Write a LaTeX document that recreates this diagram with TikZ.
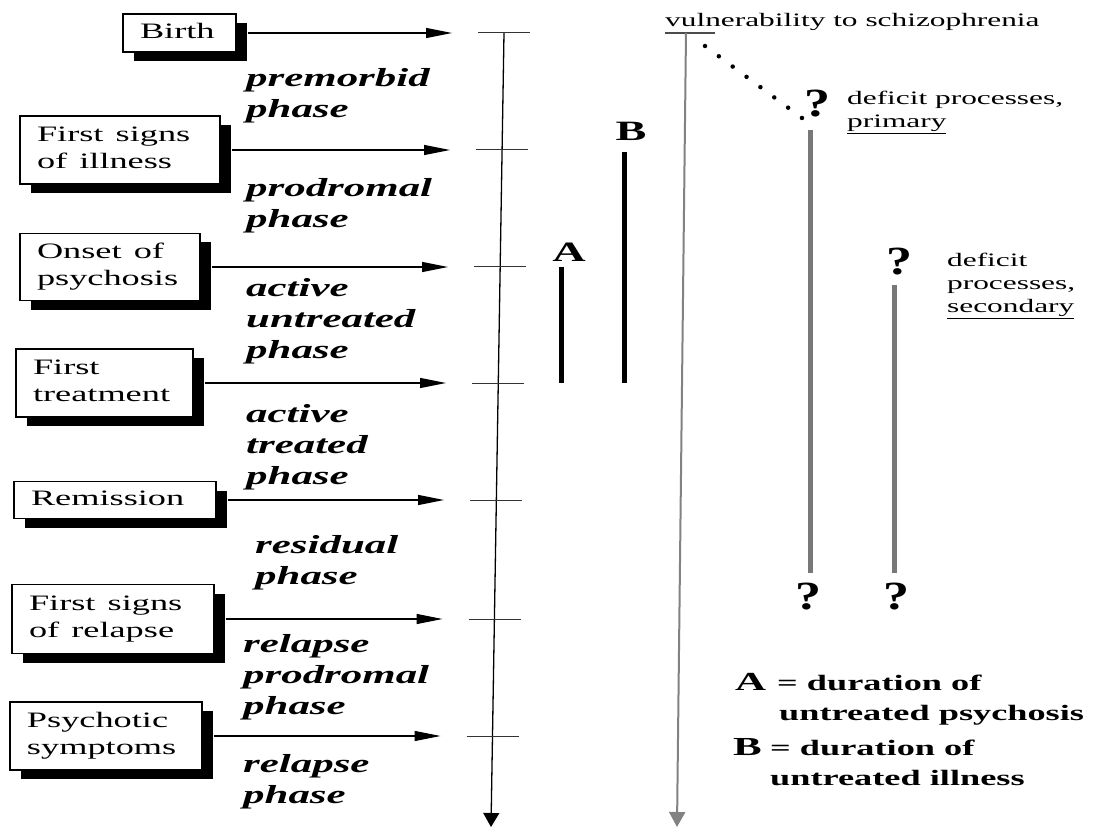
\documentclass[tikz,border=0pt]{standalone}
\usepackage{fontspec}
\setmainfont{Liberation Serif}
\usetikzlibrary{arrows.meta,shadows}
\newcommand{\hs}[1]{\scalebox{1.65}[1]{#1}}
\newcommand{\hlc}[1]{\scalebox{1.65}[1]{\begin{tabular}{@{}l@{}}#1\end{tabular}}}
\newcommand{\hlt}[1]{\scalebox{1.65}[1]{\begin{tabular}[t]{@{}l@{}}#1\end{tabular}}}
\definecolor{bargray}{RGB}{120,120,120}
\definecolor{linegray}{RGB}{130,130,130}
\tikzset{
  evbox/.style={draw, line width=1.3pt, fill=white,
    drop shadow={shadow xshift=11pt, shadow yshift=-9pt, fill=black, opacity=1},
    inner xsep=17pt, inner ysep=0pt, align=left,
    font=\fontsize{22}{27}\selectfont},
  phasetxt/.style={anchor=base west, inner sep=0pt, font=\fontsize{26}{31}\selectfont\bfseries\itshape},
  rtxt/.style={anchor=base west, inner sep=0pt, font=\fontsize{19}{23}\selectfont},
  legtxt/.style={anchor=base west, inner sep=0pt, font=\fontsize{22}{30}\selectfont\bfseries},
  bigl/.style={inner sep=0pt, font=\fontsize{28}{30}\selectfont\bfseries},
  qm/.style={inner sep=0pt, font=\fontsize{40}{42}\selectfont\bfseries},
  evarrow/.style={line width=1.1pt, -{Triangle[length=26pt,width=10pt]}},
  tick/.style={line width=1pt, black!80},
  durbar/.style={line width=5pt, black},
  defbar/.style={line width=5pt, bargray},
}
\begin{document}
\begin{tikzpicture}[x=1pt,y=-1pt]
\useasboundingbox (0,0) rectangle (1109,829);
\fill[white] (0,0) rectangle (1109,829);

% timeline coordinates
\coordinate (top) at (504,33);
\coordinate (bot) at (491,827);
\coordinate (t1) at (504,33);
\coordinate (t2) at (502,150);
\coordinate (t3) at (500,267);
\coordinate (t4) at (498,383);
\coordinate (t5) at (496,500);
\coordinate (t6) at (494.5,619);
\coordinate (t7) at (492.5,736);

\draw[line width=1.3pt, -{Triangle[length=14pt,width=16pt]}] (top) -- (bot);
\foreach \t in {t1,t2,t3,t4,t5,t6,t7}{
  \draw[tick] ([xshift=-26pt]\t) -- ([xshift=26pt]\t);
}

% event boxes
\node[evbox, minimum height=38pt, text width=79pt] (b1) at (179.5,33) {\hlc{Birth}};
\node[evbox, minimum height=68pt, text width=166pt] (b2) at (120,150) {\hlc{First signs\\of illness}};
\node[evbox, minimum height=67pt, text width=146pt] (b3) at (110,267) {\hlc{Onset of\\psychosis}};
\node[evbox, minimum height=68pt, text width=143pt] (b4) at (104.5,383) {\hlc{First\\treatment}};
\node[evbox, minimum height=37pt, text width=168pt] (b5) at (115,500) {\hlc{Remission}};
\node[evbox, minimum height=69pt, text width=168pt] (b6) at (113,619) {\hlc{First signs\\of relapse}};
\node[evbox, minimum height=68pt, text width=158pt] (b7) at (106,736) {\hlc{Psychotic\\symptoms}};

% arrows
\foreach \i in {1,...,7}{
  \draw[evarrow] ([xshift=11pt]b\i.east) -- ([xshift=-52pt]t\i);
}

% phase labels
\node[phasetxt] (p1) at (246,87) {\hlt{premorbid\\phase}};
\node[phasetxt] (p2) at (246,197) {\hlt{prodromal\\phase}};
\node[phasetxt] (p3) at (246,297) {\hlt{active\\untreated\\phase}};
\node[phasetxt] (p4) at (246,422) {\hlt{active\\treated\\phase}};
\node[phasetxt] (p5) at (255,553) {\hlt{residual\\phase}};
\node[phasetxt] (p6) at (243,652) {\hlt{relapse\\prodromal\\phase}};
\node[phasetxt] (p7) at (243,772) {\hlt{relapse\\phase}};

% A and B bars
\node[bigl] (la) at (569,252) {\hs{A}};
\coordinate (a1) at (561,267);
\coordinate (a2) at (561,383);
\draw[durbar] (a1) -- (a2);
\node[bigl] (lb) at (631,131) {\hs{B}};
\coordinate (bb1) at (624,152);
\coordinate (bb2) at (624,383);
\draw[durbar] (bb1) -- (bb2);

% vulnerability line
\node[rtxt] (vul) at (665,27) {\hs{vulnerability to schizophrenia}};
\coordinate (vtl) at (665,33);
\coordinate (vtr) at (715,33);
\coordinate (vtop) at (686,33);
\coordinate (vbot) at (677,827);
\draw[line width=1.2pt, black!70] (vtl) -- (vtr);
\draw[line width=2pt, linegray, -{Triangle[length=15pt,width=16pt]}] (vtop) -- (vbot);
\coordinate (ds) at (705,46);
\coordinate (de) at (802,118);
\draw[line width=4.5pt, line cap=round, dash pattern=on 0pt off 17.25pt] (ds) -- (de);

% deficit processes
\node[qm] (q1) at (817,104) {\scalebox{1.3}[1]{?}};
\node[rtxt] (dp1) at (847,105) {\hlt{deficit processes,\\\underline{primary}}};
\coordinate (d1a) at (810,130);
\coordinate (d1b) at (810,573);
\draw[defbar] (d1a) -- (d1b);
\node[qm] (q2) at (899,262) {\scalebox{1.3}[1]{?}};
\node[rtxt] (dp2) at (947,267) {\hlt{deficit\\processes,\\\underline{secondary}}};
\coordinate (d2a) at (894,285);
\coordinate (d2b) at (894,573);
\draw[defbar] (d2a) -- (d2b);
\node[qm] (q3) at (808,597) {\scalebox{1.3}[1]{?}};
\node[qm] (q4) at (896,597) {\scalebox{1.3}[1]{?}};

% legend
\node[legtxt, font=\fontsize{26}{30}\selectfont\bfseries] (lga) at (735,690) {\hs{A}};
\node[legtxt] (lga1) at (777,690) {\hs{= duration of}};
\node[legtxt] (lga2) at (779,720) {\hs{untreated psychosis}};
\node[legtxt, font=\fontsize{26}{30}\selectfont\bfseries] (lgb) at (733,755) {\hs{B}};
\node[legtxt] (lgb1) at (770,755) {\hs{= duration of}};
\node[legtxt] (lgb2) at (770,785) {\hs{untreated illness}};
\end{tikzpicture}
\end{document}
